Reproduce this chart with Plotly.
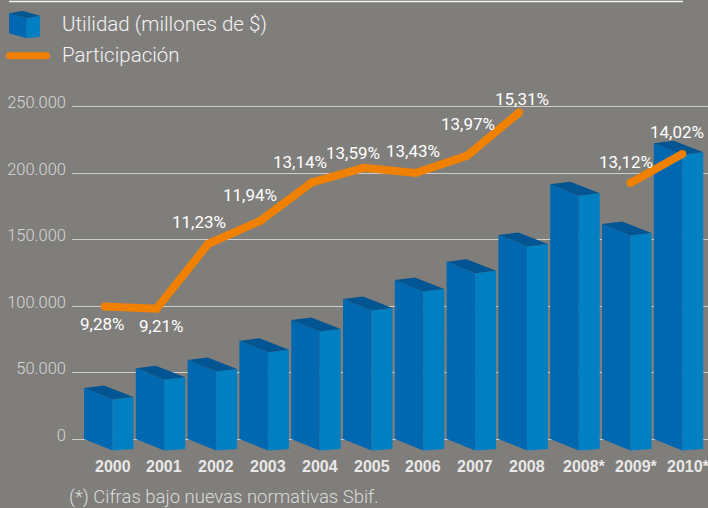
import plotly.graph_objects as go

# ---------------- data ----------------
years = ["2000", "2001", "2002", "2003", "2004", "2005", "2006", "2007", "2008",
         "2008*", "2009*", "2010*"]
utilidad = [38300, 53200, 59400, 73900, 89500, 105300, 119600, 133300, 153400,
            191500, 161700, 222400]
participacion = [9.28, 9.21, 11.23, 11.94, 13.14, 13.59, 13.43, 13.97, 15.31,
                 None, 13.12, 14.02]
y_ticks = [0, 50000, 100000, 150000, 200000, 250000]
legend_labels = ["Utilidad (millones de $)", "Participación"]
footnote = "(*) Cifras bajo nuevas normativas Sbif."

# ---------------- styling ----------------
W, H = 708, 508
ML, MR, MT, MB = 72, 0, 95, 56
PW, PH = W - ML - MR, H - MT - MB
BG = "#807e7b"
FRONT = "#0068b0"
SIDE = "#007fc2"
TOP = "#005592"
ORANGE = "#f08000"
LIGHT = "Roboto"

X_RANGE = [-0.2317, 12.046]
Y_RANGE = [-9775, 258650]
# secondary axis for the percentage line
Y2_RANGE = [4.7596, 15.8534]

def px_x(px):
    return (px - ML) / PW

def px_y(py):
    return (H - MB - py) / PH

# pixel -> data conversion factors for the pseudo-3D box
ux = (X_RANGE[1] - X_RANGE[0]) / PW      # categories per px
uy = (Y_RANGE[1] - Y_RANGE[0]) / PH      # value units per px

fw, bw, tw = 28.5 * ux, 49.5 * ux, 20 * ux
drop_f, drop_s, rise_t, drop_base_s = 11.5 * uy, 9 * uy, 2.5 * uy, 10 * uy

fx, fy, sx, sy, tx, ty = [], [], [], [], [], []
for i, v in enumerate(utilidad):
    fx += [i, i + fw, i + fw, i, i, None]
    fy += [v, v - drop_f, -drop_f, 0, v, None]
    sx += [i + fw, i + bw, i + bw, i + fw, i + fw, None]
    sy += [v - drop_f, v - drop_s, -drop_base_s, -drop_f, v - drop_f, None]
    tx += [i, i + tw, i + bw, i + fw, i, None]
    ty += [v, v + rise_t, v - drop_s, v - drop_f, v, None]

fig = go.Figure()
for xs, ys, col in [(sx, sy, SIDE), (fx, fy, FRONT), (tx, ty, TOP)]:
    fig.add_trace(go.Scatter(x=xs, y=ys, mode="lines", fill="toself",
                             fillcolor=col, line=dict(width=0, color=col),
                             hoverinfo="skip", showlegend=False))

line_x = [i + (0.55 if "*" in y else 0.4) for i, y in enumerate(years)]
fig.add_trace(go.Scatter(x=line_x, y=participacion, yaxis="y2",
                         mode="lines+markers", connectgaps=False,
                         line=dict(color=ORANGE, width=8),
                         marker=dict(color=ORANGE, size=8, line=dict(width=0)),
                         hoverinfo="skip", showlegend=False))

annotations = []
label_offsets = [(-3, 17), (4.5, 17), (-9, -22), (-10.4, -25.7), (-12, -20),
                 (-11, -15), (-3, -22), (1, -32), (2.5, -13), None, (-5, -21),
                 (-5, -22)]
for i, p in enumerate(participacion):
    if p is None:
        continue
    dx, dy = label_offsets[i]
    annotations.append(dict(
        x=line_x[i], y=p, xref="x", yref="y2",
        text=f"{p:.2f}".replace(".", ",") + "%", showarrow=False,
        xanchor="center", yanchor="middle", xshift=dx, yshift=-dy,
        font=dict(family=LIGHT, size=17, color="#ffffff", weight=400)))

# x labels
for i, y in enumerate(years):
    annotations.append(dict(
        x=i + fw, y=px_y(466), xref="x", yref="paper", text=y,
        showarrow=False, xanchor="center", yanchor="middle",
        xshift=6 if "*" in y else 0,
        font=dict(family="Liberation Sans", size=16, color="#e8e8e8",
                  weight="bold")))

# legend texts
for k, (lab, py) in enumerate(zip(legend_labels, [23.5, 55.5])):
    annotations.append(dict(
        x=px_x(60), y=px_y(py), xref="paper", yref="paper", text=lab,
        showarrow=False, xanchor="left", yanchor="middle",
        font=dict(family=LIGHT, size=20.5, color="#f2f2f2", weight=300)))

annotations.append(dict(
    x=px_x(67), y=px_y(497), xref="paper", yref="paper", text=footnote,
    showarrow=False, xanchor="left", yanchor="middle",
    font=dict(family=LIGHT, size=18.5, color="#dadada", weight=300)))

def poly(points):
    return "M " + " L ".join(f"{px_x(a)},{px_y(b)}" for a, b in points) + " Z"

shapes = [
    # top rule
    dict(type="line", xref="paper", yref="paper", x0=px_x(9), x1=px_x(683),
         y0=px_y(1.5), y1=px_y(1.5), line=dict(color="#f4f4f4", width=1.5)),
    # legend cube
    dict(type="path", xref="paper", yref="paper", line=dict(width=0),
         fillcolor=FRONT, path=poly([(9, 13.3), (26.7, 18.3), (26.7, 38.3), (9, 33.3)])),
    dict(type="path", xref="paper", yref="paper", line=dict(width=0),
         fillcolor=SIDE, path=poly([(26.7, 18.3), (40, 15.7), (40, 36.7), (26.7, 38.3)])),
    dict(type="path", xref="paper", yref="paper", line=dict(width=0),
         fillcolor=TOP, path=poly([(9, 13.3), (22.7, 11), (40, 15.7), (26.7, 18.3)])),
    # legend line
    dict(type="line", xref="paper", yref="paper", x0=px_x(9.5), x1=px_x(46.5),
         y0=px_y(55.7), y1=px_y(55.7), line=dict(color=ORANGE, width=7)),
    dict(type="circle", xref="paper", yref="paper", x0=px_x(6), x1=px_x(13),
         y0=px_y(59.2), y1=px_y(52.2), fillcolor=ORANGE, line=dict(width=0)),
    dict(type="circle", xref="paper", yref="paper", x0=px_x(43), x1=px_x(50),
         y0=px_y(59.2), y1=px_y(52.2), fillcolor=ORANGE, line=dict(width=0)),
]

fig.update_layout(
    width=W, height=H, margin=dict(l=ML, r=MR, t=MT, b=MB, pad=0),
    paper_bgcolor=BG, plot_bgcolor=BG, separators=",.",
    showlegend=False, annotations=annotations, shapes=shapes,
    xaxis=dict(range=X_RANGE, showgrid=False, zeroline=False,
               showticklabels=False, showline=False, fixedrange=True),
    yaxis=dict(range=Y_RANGE, tickvals=y_ticks, tickformat=",d",
               showgrid=True, gridcolor="#cdcdcd", gridwidth=1,
               zeroline=False, showline=False, ticks="",
               ticklabelstandoff=5, ticklabelshift=-4,
               tickfont=dict(family=LIGHT, size=16.5, color="#d6d6d6", weight=300)),
    yaxis2=dict(range=Y2_RANGE, overlaying="y", visible=False),
)

fig.write_html("out.html")
